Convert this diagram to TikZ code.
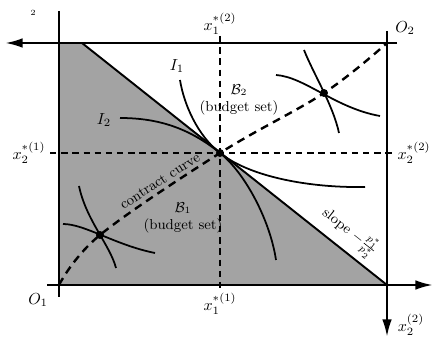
\documentclass[tikz,border=0pt]{standalone}
\usepackage{amsmath}
\usepackage{amssymb}
\usepackage{xcolor}
\definecolor{boxgray}{RGB}{163,163,163}
\usepackage{tikz}
\usetikzlibrary{positioning,arrows.meta}
\tikzset{
  axisline/.style ={line width=1.5pt},
  axisarrow/.style={line width=1.5pt,-{Latex[length=11pt,width=6pt]}},
  budget/.style   ={line width=1.2pt},
  guide/.style    ={line width=0.7pt,dash pattern=on 4pt off 3pt},
  contract/.style ={line width=1.5pt,dash pattern=on 5pt off 3.5pt},
  indiff/.style   ={line width=1.1pt},
  dot/.style      ={circle,fill=black,inner sep=0pt,minimum size=5pt},
}
\begin{document}
\begin{tikzpicture}[x=0.022cm,y=-0.022cm]
  \useasboundingbox (0,0) rectangle (433,339);
  \coordinate (O1) at (59,285);
  \coordinate (O2) at (387,43);
  \coordinate (TL) at (59,43);
  \coordinate (BR) at (387,285);
  \coordinate (T) at (82,43);
  % budget set of consumer 1
  \fill[boxgray] (O1) -- (TL) -- (T) -- (BR) -- cycle;
  % equilibrium guides
  \draw[guide] (220,36) -- (220,292);
  \draw[guide] (50,153) -- (395,153);
  % budget line
  \draw[budget] (T) -- node[pos=0.84,sloped,above,font=\small] {slope $-\frac{p_1^*}{p_2^*}$} (BR);
  % points on the contract curve
  \node[dot] (E) at (220,153) {};
  \node[dot] (A) at (100,235) {};
  \node[dot] (B) at (324,93) {};
  \draw[contract] plot[smooth,tension=0.6] coordinates {(O1) (A.center) (E.center) (B.center) (O2)};
  % indifference curves
  \draw[indiff] (180,80) .. controls (184,105) and (198,136) .. (E.center)
                .. controls (250,177) and (310,188) .. (365,187);
  \draw[indiff] (120,118) .. controls (160,118) and (190,129) .. (E.center)
                .. controls (245,173) and (270,220) .. (276,260);
  \draw[indiff] (79,186) .. controls (86,220) and (110,245) .. (116,268);
  \draw[indiff] (63,224) .. controls (85,224) and (115,245) .. (155,253);
  \draw[indiff] (304,50) .. controls (314,75) and (333,105) .. (339,133);
  \draw[indiff] (276,75) .. controls (305,77) and (335,108) .. (380,116);
  % axes
  \draw[axisarrow] (397,43) -- (5,43);
  \draw[axisarrow] (47,285) -- (433,285);
  \draw[axisarrow] (387,31) -- (387,337);
  \draw[axisline] (59,11) -- (59,297);
  % labels
  \node (x1top) at (220,24) {$x_1^{*(2)}$};
  \node (x1bot) at (220,304) {$x_1^{*(1)}$};
  \node (x2left) at (29,153) {$x_2^{*(1)}$};
  \node (x2right) at (414,153) {$x_2^{*(2)}$};
  \node (o1) at (38,300) {$O_1$};
  \node (o2) at (405,28) {$O_2$};
  \node (x22) at (411,325) {$x_2^{(2)}$};
  \node (i1) at (177,66) {$I_1$};
  \node (i2) at (104,120) {$I_2$};
  \node[align=center,font=\small] (b1) at (183,218) {$\mathcal{B}_1$\\(budget set)};
  \node[align=center,font=\small] (b2) at (239,100) {$\mathcal{B}_2$\\(budget set)};
  \node[rotate=33,font=\small] (cc) at (160,181) {contract curve};
  \node (frag) at (33,13) {$\scriptscriptstyle 2$};
\end{tikzpicture}
\end{document}
